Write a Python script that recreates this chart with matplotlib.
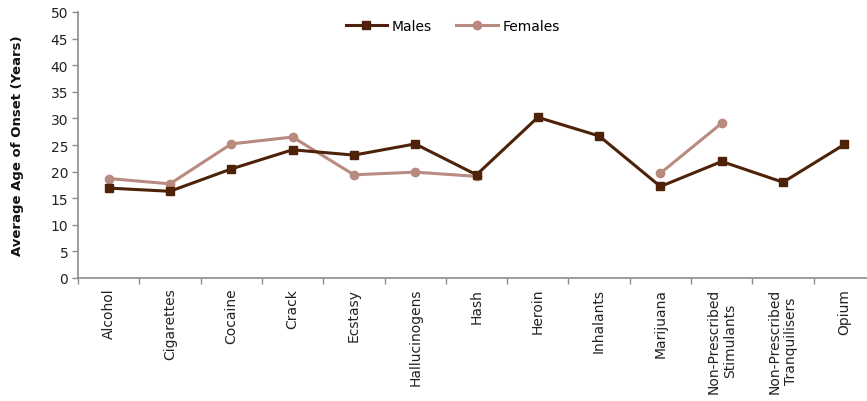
import numpy as np
import matplotlib
matplotlib.use("Agg")
import matplotlib.pyplot as plt
from matplotlib.ticker import FixedLocator, MultipleLocator

categories = ["Alcohol", "Cigarettes", "Cocaine", "Crack", "Ecstasy",
              "Hallucinogens", "Hash", "Heroin", "Inhalants", "Marijuana",
              "Non-Prescribed\nStimulants", "Non-Prescribed\nTranquilisers", "Opium"]
males = [16.9, 16.3, 20.5, 24.1, 23.1, 25.2, 19.4, 30.2, 26.7, 17.2, 21.9, 18.0, 25.1]
females = [18.7, 17.7, 25.2, 26.5, 19.4, 19.9, 19.1, np.nan, np.nan, 19.7, 29.1, np.nan, np.nan]
y_label = "Average Age of Onset (Years)"

plt.rcParams['font.family'] = ['DejaVu Sans']
male_color = "#4e2208"
female_color = "#b98b80"
axis_color = "#8c8c8c"

fig = plt.figure(figsize=(8.67, 4.02), dpi=100)
ax = fig.add_axes([78 / 867, 1 - 279 / 402, 797 / 867, 266 / 402])

x = np.arange(len(categories))
ax.plot(x, males, color=male_color, lw=2.2, marker="s", ms=6, label="Males", zorder=3)
ax.plot(x, females, color=female_color, lw=2.2, marker="o", ms=6, label="Females", zorder=2)

ax.set_xlim(-0.5, len(categories) - 0.5)
ax.set_ylim(0, 50)
ax.yaxis.set_major_locator(MultipleLocator(5))

ax.set_xticks(x)
ax.set_xticklabels(categories, rotation=90, fontsize=10, color="#222222",
                   multialignment="center")
ax.tick_params(axis="x", which="major", length=0, pad=7)
ax.xaxis.set_minor_locator(FixedLocator(np.arange(-0.5, len(categories), 1.0)))
ax.tick_params(axis="x", which="minor", length=4, color=axis_color, width=1)
ax.tick_params(axis="y", length=4, color=axis_color, width=1, labelsize=10,
               labelcolor="#222222", pad=3)

for side in ["top", "right"]:
    ax.spines[side].set_visible(False)
for side in ["left", "bottom"]:
    ax.spines[side].set_color(axis_color)
    ax.spines[side].set_linewidth(1.2)

ax.set_ylabel(y_label, fontsize=9.5, fontweight="bold", color="#111111", labelpad=19)

ax.legend(loc="upper center", bbox_to_anchor=(0.47, 1.02), ncol=2, frameon=False,
          fontsize=10, handlelength=3, columnspacing=1.8, handletextpad=0.3)

fig.savefig("out.png", dpi=100)
